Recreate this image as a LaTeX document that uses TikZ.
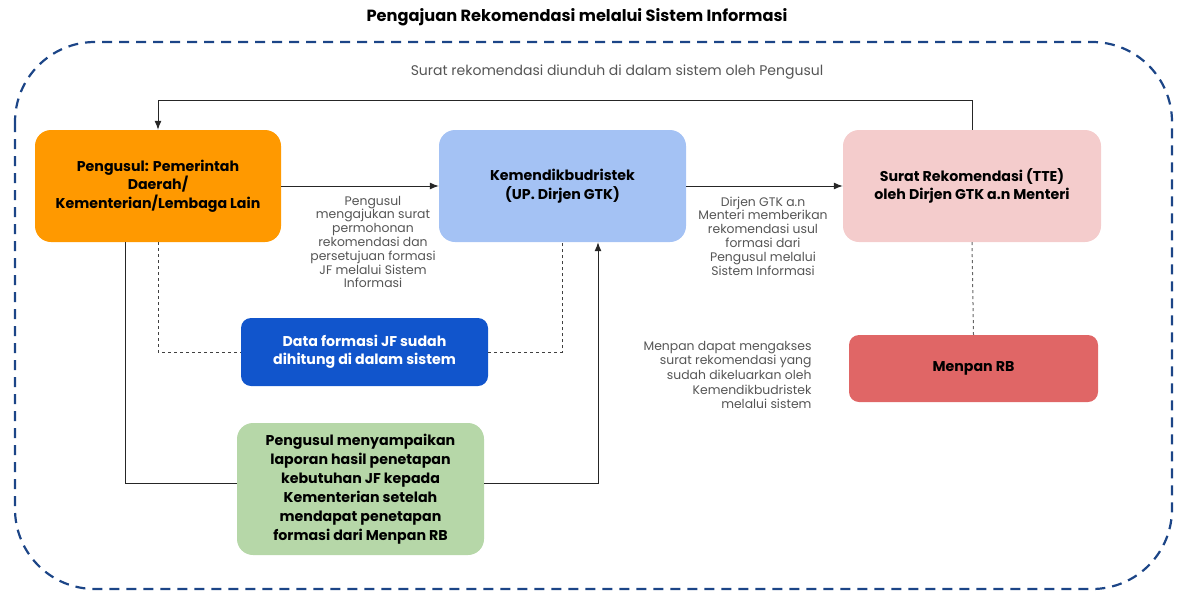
\documentclass[tikz,border=0pt]{standalone}
\usepackage{fontspec}
\setmainfont{Poppins}
\usepackage{tikz}
\usetikzlibrary{arrows.meta}

\definecolor{oranye}{HTML}{FF9900}
\definecolor{birumuda}{HTML}{A4C2F4}
\definecolor{merahmuda}{HTML}{F4CCCC}
\definecolor{merah}{HTML}{E06666}
\definecolor{birutua}{HTML}{1155CC}
\definecolor{hijau}{HTML}{B6D7A8}
\definecolor{garis}{HTML}{1C4587}
\definecolor{teks}{HTML}{555555}

\begin{document}
\begin{tikzpicture}[x=1pt, y=-1pt, >={Latex[length=9pt,width=7pt]},
    kotak/.style={rounded corners=16pt, align=center, font=\fontsize{14.2}{18.5}\selectfont\bfseries},
    ket/.style={text=teks, align=center, font=\fontsize{12.4}{13.8}\selectfont},
    hub/.style={line width=1pt, black!85}]
        \useasboundingbox (0,0) rectangle (1178,592);

        % judul dan batas sistem
        \node[font=\fontsize{16.2}{18}\selectfont\bfseries] (judul) at (577,17) {Pengajuan Rekomendasi melalui Sistem Informasi};
        \draw[garis, line width=2.2pt, dash pattern=on 10pt off 7pt, rounded corners=80pt] (15,42) rectangle (1172,589);

        % kotak-kotak
        \node[kotak, fill=oranye, minimum width=246, minimum height=112] (pengusul) at (158,186)
            {Pengusul: Pemerintah\\Daerah/\\Kementerian/Lembaga Lain};
        \node[kotak, fill=birumuda, minimum width=247, minimum height=112] (kemen) at (562.5,186)
            {Kemendikbudristek\\(UP. Dirjen GTK)};
        \node[kotak, fill=merahmuda, minimum width=258, minimum height=112] (surat) at (972,186)
            {Surat Rekomendasi (TTE)\\oleh Dirjen GTK a.n Menteri};
        \node[kotak, rounded corners=10pt, fill=merah, minimum width=249, minimum height=67] (menpan) at (973.5,368.5)
            {Menpan RB};
        \node[kotak, rounded corners=10pt, fill=birutua, text=white, minimum width=247, minimum height=68] (data) at (364.5,352)
            {Data formasi JF sudah\\dihitung di dalam sistem};
        \node[kotak, fill=hijau, minimum width=247, minimum height=132, font=\fontsize{14.2}{19}\selectfont\bfseries] (laporan) at (360.5,489)
            {Pengusul menyampaikan\\laporan hasil penetapan\\kebutuhan JF kepada\\Kementerian setelah\\mendapat penetapan\\formasi dari Menpan RB};

        % panah utama
        \draw[hub, ->] (pengusul.east) -- (kemen.west);
        \draw[hub, ->] (kemen.east) -- (surat.west);
        \draw[hub, ->] (surat.north) -- ++(0,-29) -| (pengusul.north);

        % jalur laporan
        \draw[hub] ([xshift=-33pt]pengusul.south) |- ([yshift=6pt]laporan.west);
        \draw[hub, ->] ([yshift=6pt]laporan.east) -| ([xshift=35.5pt]kemen.south);

        % garis putus-putus
        \draw[hub, dashed, black!75] (pengusul.south) |- (data.west);
        \draw[hub, dashed, black!75] (data.east) -| (kemen.south);
        \draw[hub, dashed, black!60] (surat.south) -- (menpan.north);

        % keterangan
        \node[ket, font=\fontsize{14}{16}\selectfont] (ketunduh) at (617,72) {Surat rekomendasi diunduh di dalam sistem oleh Pengusul};
        \node[ket] (ketaju) at (373,242) {Pengusul\\mengajukan surat\\permohonan\\rekomendasi dan\\persetujuan formasi\\JF melalui Sistem\\Informasi};
        \node[ket] (ketdirjen) at (763,236) {Dirjen GTK a.n\\Menteri memberikan\\rekomendasi usul\\formasi dari\\Pengusul melalui\\Sistem Informasi};
        \node[ket, align=right, anchor=east, font=\fontsize{12.4}{14.6}\selectfont] (ketmenpan) at (815,375) {Menpan dapat mengakses\\surat rekomendasi yang\\sudah dikeluarkan oleh\\Kemendikbudristek\\melalui sistem};
\end{tikzpicture}
\end{document}
